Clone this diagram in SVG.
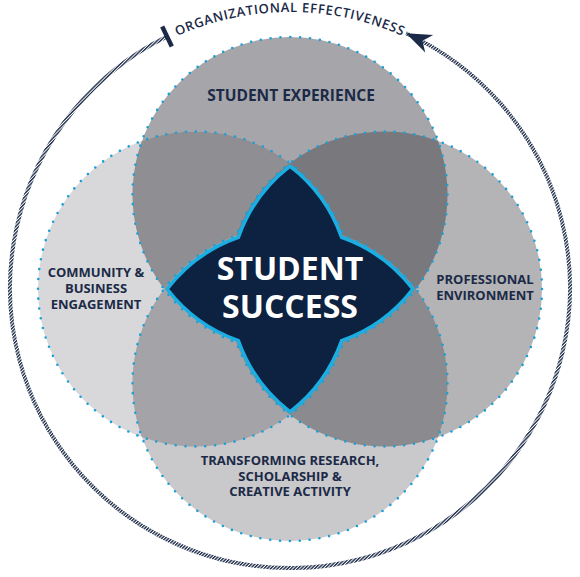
<svg xmlns="http://www.w3.org/2000/svg" width="580" height="577" viewBox="0 0 580 577">
<style>
.lbl{font-family:"Open Sans","Liberation Sans",sans-serif;font-weight:700;fill:#1b2a47;text-anchor:middle}
.dots{fill:none;stroke:#1a9fd6;stroke-width:2.6;stroke-linecap:round;stroke-dasharray:0 9.896}
.big{font-family:"Open Sans","Liberation Sans",sans-serif;font-weight:700;fill:#ffffff;text-anchor:middle;font-size:32px}
</style>
<defs>
<pattern id="hatch" width="2.4" height="2.4" patternUnits="userSpaceOnUse" patternTransform="rotate(45)">
<rect width="2.4" height="2.4" fill="#ffffff"/>
<rect width="1.4" height="2.4" fill="#1b2a47"/>
</pattern>
<marker id="arrow" markerUnits="userSpaceOnUse" markerWidth="34" markerHeight="34" viewBox="-28 -14 32 28" refX="0" refY="0" orient="auto">
<path d="M0,0 L-24,-9 L-17,0 L-24,9 Z" fill="#1b2a47"/>
</marker>
<path id="arcText" d="M14,288 A276,276 0 0 1 566,288"/>
</defs>
<rect width="580" height="577" fill="#ffffff"/>
<g id="connectors">
<path d="M167,36.5 A280,280 0 1 0 406,33.2" fill="none" stroke="url(#hatch)" stroke-width="4" marker-end="url(#arrow)"/>
<line x1="162.2" y1="26.6" x2="171.8" y2="46.4" stroke="#1b2a47" stroke-width="4.5"/>
</g>
<g id="org-effectiveness">
<text font-family="'Open Sans','Liberation Sans',sans-serif" font-weight="600" font-size="13" fill="#1b2a47" letter-spacing="0.7"><textPath href="#arcText" startOffset="50%" text-anchor="middle">ORGANIZATIONAL EFFECTIVENESS</textPath></text>
</g>
<g id="circles">
<circle id="c-top" cx="290" cy="194.5" r="157.5" fill="#a6a5a9"/>
<circle id="c-left" cx="195.5" cy="289" r="157.5" fill="#d8d8da"/>
<circle id="c-right" cx="384.5" cy="289" r="157.5" fill="#b4b3b6"/>
<circle id="c-bottom" cx="290" cy="383.5" r="157.5" fill="#c9c8cb"/>
<path d="M141.9,140.9 A157.5,157.5 0 0 0 343.6,342.6 A157.5,157.5 0 0 0 141.9,140.9 Z" fill="#8f8e92"/>
<path d="M438.1,140.9 A157.5,157.5 0 0 1 236.4,342.6 A157.5,157.5 0 0 1 438.1,140.9 Z" fill="#79787c"/>
<path d="M141.9,437.1 A157.5,157.5 0 0 1 343.6,235.4 A157.5,157.5 0 0 1 141.9,437.1 Z" fill="#a4a3a7"/>
<path d="M438.1,437.1 A157.5,157.5 0 0 0 236.4,235.4 A157.5,157.5 0 0 0 438.1,437.1 Z" fill="#8b8a8e"/>
<circle class="dots" cx="290" cy="194.5" r="157.5"/>
<circle class="dots" cx="195.5" cy="289" r="157.5"/>
<circle class="dots" cx="384.5" cy="289" r="157.5"/>
<circle class="dots" cx="290" cy="383.5" r="157.5"/>
</g>
<g id="student-experience">
<text class="lbl" x="291" y="101" font-size="15.5">STUDENT EXPERIENCE</text>
</g>
<g id="community">
<text class="lbl" font-size="13"><tspan x="96" y="277">COMMUNITY &amp;</tspan><tspan x="96" y="293">BUSINESS</tspan><tspan x="96" y="309">ENGAGEMENT</tspan></text>
</g>
<g id="professional">
<text class="lbl" font-size="13"><tspan x="485" y="284">PROFESSIONAL</tspan><tspan x="485" y="299.5">ENVIRONMENT</tspan></text>
</g>
<g id="research">
<text class="lbl" font-size="13"><tspan x="290" y="465">TRANSFORMING RESEARCH,</tspan><tspan x="290" y="480.5">SCHOLARSHIP &amp;</tspan><tspan x="290" y="496">CREATIVE ACTIVITY</tspan></text>
</g>
<g id="student-success">
<path d="M290,166.14 A155,155 0 0 0 238.36,237.36 A155,155 0 0 0 167.14,289 A155,155 0 0 0 238.36,340.64 A155,155 0 0 0 290,411.86 A155,155 0 0 0 341.64,340.64 A155,155 0 0 0 412.86,289 A155,155 0 0 0 341.64,237.36 A155,155 0 0 0 290,166.14 Z" fill="#0c2240" stroke="#1aaee3" stroke-width="3.5" stroke-linejoin="miter"/>
<text class="big" x="290" y="279.5">STUDENT</text>
<text class="big" x="290" y="317.5">SUCCESS</text>
</g>
</svg>
